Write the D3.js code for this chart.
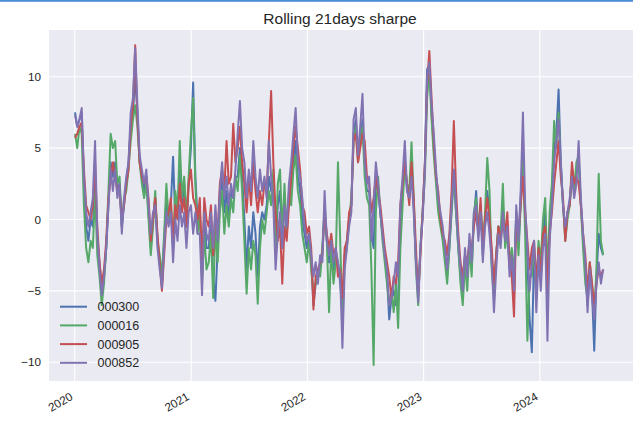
<!DOCTYPE html>
<html>
<head>
<meta charset="utf-8">
<script src="https://cdn.jsdelivr.net/npm/d3@7"></script>
<style>
  body { margin: 0; background: #fff; }
  text { font-family: "Liberation Sans", Arial, sans-serif; fill: #262626; }
</style>
</head>
<body>
<script>

// weekly samples, first one 2020-01-02
var dates = d3.timeThursday.range(new Date(2020, 0, 2), new Date(2024, 6, 19));

var names = ["000300", "000016", "000905", "000852"];

var s000300 = [
  7.5, 6.5, 7.0, 7.5, 2.5, -0.5, -1.5, 0.0, -0.5, 3.0,
  -1.5, -3.0, -5.0, -4.0, -2.0, 1.0, 4.0, 3.0, 4.0, 2.0,
  2.5, -0.5, 1.0, 2.5, 4.0, 6.5, 7.5, 10.0, 7.5, 4.0,
  3.0, 2.0, 3.0, 0.5, -2.0, 0.0, 1.5, -1.5, -3.0, -4.5,
  -1.5, 1.5, 0.0, 1.0, 4.4, 0.0, 0.5, 3.5, 1.0, 2.5,
  -0.5, 2.5, 5.0, 9.6, 3.0, 0.0, 1.0, -4.0, 0.5, -2.0,
  -2.0, 0.0, -4.0, -5.7, -2.0, 1.5, 3.0, 0.5, 2.0, 0.0,
  2.0, 1.5, 3.0, 3.0, 5.0, 3.0, 0.0, -3.5, -0.5, -2.0,
  0.5, -1.0, -4.0, -0.5, 0.5, 0.0, 1.0, 3.0, 2.0, 3.0,
  -2.0, 1.0, 2.0, -2.0, 1.5, -1.0, 1.5, 2.5, 4.0, 5.5,
  3.0, 2.0, 0.0, -1.0, -2.0, -1.0, -3.0, -6.0, -4.5, -4.0,
  -3.5, -2.0, 0.5, -1.5, -3.0, -1.5, -3.5, -2.5, -3.0, -4.5,
  -6.5, -2.5, -1.5, 0.0, 1.0, 6.0, 7.0, 4.5, 5.5, 7.0,
  4.0, 2.0, 2.0, -1.0, -2.0, 3.0, 2.0, 0.5, -1.0, -2.5,
  -4.0, -7.0, -5.5, -5.0, -6.0, -5.5, -1.0, 2.0, 4.0, 2.0,
  1.5, 3.5, 1.0, -3.0, -5.0, -2.0, 0.5, 4.0, 10.5, 10.8,
  7.5, 5.0, 3.0, 1.0, 0.0, -1.0, -2.5, -4.0, -2.0, 1.0,
  3.0, 0.5, -2.0, -4.0, -5.5, -2.5, -4.0, -1.5, -3.5, 0.0,
  2.0, -1.0, 1.0, -2.5, 0.0, 2.0, 0.5, -3.0, -5.0, -2.5,
  -0.5, -1.5, 1.0, -1.5, -0.5, -3.5, -3.0, -5.5, 0.5, -2.0,
  1.5, 5.0, 0.0, -3.0, -7.0, -9.3, -2.5, -5.0, -2.0, -4.0,
  -1.0, 0.5, -5.5, -0.5, 2.0, 5.0, 6.0, 9.1, 4.0, 1.0,
  -1.0, 0.5, 1.0, 3.0, 2.0, 3.5, 4.0, 1.0, -1.5, -3.5,
  -6.0, -3.5, -5.0, -9.2, -4.0, -1.0, -2.0, -2.5
];

var s000016 = [
  6.0, 5.0, 6.5, 6.0, 1.0, -2.0, -3.0, -1.5, -2.0, 2.0,
  -2.5, -4.0, -6.0, -4.5, -2.0, 2.0, 6.0, 5.0, 5.5, 2.5,
  3.0, -0.5, 1.5, 2.0, 3.5, 5.5, 7.0, 8.0, 6.5, 4.0,
  2.5, 1.5, 2.5, 0.0, -2.5, -0.5, 2.0, -1.5, -2.5, -4.0,
  -1.0, 2.5, 0.0, 1.0, -2.0, 2.0, 0.5, 5.5, 1.5, 3.0,
  0.0, 3.0, 6.0, 8.5, 2.5, -1.0, 0.5, -4.5, -1.0, -3.5,
  -3.0, -1.0, -5.5, -0.5, -3.0, 0.5, 2.0, -1.0, 1.0, -0.5,
  1.5, 0.5, 3.0, 2.0, 4.5, 2.0, -1.5, -5.2, -2.0, -3.5,
  -1.5, -2.5, -5.9, -2.0, 0.0, -1.0, 0.5, 2.0, 1.0, 3.5,
  -2.5, 2.5, 3.5, -1.0, 2.5, -1.0, 2.0, 1.0, 3.5, 4.5,
  2.0, 1.0, -1.0, -2.0, -3.0, -1.5, -3.5, -5.0, -4.5, -3.5,
  -4.0, -2.0, 1.0, -1.5, -6.5, -2.0, -4.5, -3.0, 4.0, -1.5,
  -7.0, -3.0, -2.0, 0.0, 1.5, 5.5, 6.5, 4.0, 5.5, 6.5,
  3.0, 1.5, 1.0, -3.5, -10.2, 0.5, 3.0, 0.5, -1.5, -3.0,
  -4.5, -6.0, -5.0, -6.5, -4.5, -7.6, -2.0, 1.0, 4.0, 2.5,
  2.0, 5.4, 1.5, -3.5, -6.0, -2.0, 0.5, 3.0, 8.5, 10.5,
  7.0, 4.5, 2.5, 0.5, -0.5, -1.5, -3.0, -4.5, -2.0, 0.5,
  3.0, 0.5, -2.0, -4.5, -6.0, -3.0, -5.0, -2.0, -4.0, 0.5,
  1.5, -1.0, 1.0, -2.0, 0.5, 4.3, 2.0, -3.5, -5.5, -2.5,
  -0.5, -1.0, 2.5, -2.0, -1.0, -3.0, -2.0, -4.0, 0.5, -2.5,
  1.0, 4.0, -1.0, -8.5, -4.0, -4.0, -2.0, -5.5, -1.5, -3.0,
  0.0, 1.5, -4.0, 0.5, 2.5, 6.9, 5.0, 7.5, 3.5, 1.0,
  -1.5, 0.0, 1.0, 3.5, 2.0, 4.0, 4.5, 1.0, -2.0, -4.5,
  -5.5, -3.0, -4.5, -6.5, -3.5, 3.2, -1.5, -2.5
];

var s000905 = [
  5.7, 6.0, 6.5, 6.8, 3.5, 1.0, 0.5, 0.0, 1.0, 4.0,
  -0.5, -3.0, -4.5, -3.5, -1.5, 1.5, 3.0, 4.0, 3.0, 2.0,
  2.0, 0.0, 1.0, 2.5, 3.5, 6.5, 8.0, 12.2, 7.0, 4.0,
  3.0, 2.5, 3.0, 1.5, -1.5, 0.0, 1.5, -1.0, -3.0, -5.0,
  -2.5, 0.0, 0.5, 1.5, -1.5, 1.0, 0.0, 2.5, 0.5, 1.5,
  -0.5, 2.5, 3.5, 1.5, 1.0, 0.0, 1.5, -3.5, 1.5, 0.0,
  -0.5, 1.0, -2.5, 0.5, -1.0, 2.5, 3.5, 2.0, 5.5, 2.5,
  3.0, 6.7, 4.0, 5.0, 6.5, 4.0, 2.5, 0.5, 3.0, 1.0,
  4.0, 2.0, 0.5, 2.0, 1.0, 2.5, 2.0, 5.5, 9.0, 4.0,
  0.5, -1.5, -0.5, -4.5, -0.5, -1.5, 1.0, 3.0, 5.0, 6.5,
  5.0, 3.5, 1.0, 0.5, -1.0, -0.5, -2.0, -6.3, -4.0, -3.5,
  -3.0, -2.5, 0.5, -1.0, -2.0, -1.0, -2.5, -2.0, -4.0, -3.5,
  -5.5, -2.0, -1.5, 0.5, 1.0, 5.5, 6.0, 4.0, 5.0, 6.0,
  5.5, 3.0, 2.5, 0.5, 1.5, 3.0, 2.0, 1.0, -0.5, -2.0,
  -3.0, -4.0, -5.5, -4.0, -4.5, -3.0, 1.0, 2.5, 4.0, 2.5,
  1.0, 4.0, 1.5, -2.0, -5.4, -2.5, 0.5, 4.0, 9.5, 11.8,
  8.5, 5.5, 3.0, 2.0, 0.0, -1.0, -1.5, -2.5, -1.0, 2.0,
  6.9, 2.0, -1.0, -3.0, -4.0, -2.5, -3.0, -1.5, -2.0, -0.5,
  0.5, -1.0, 1.5, -2.0, 0.0, 1.5, 0.0, -2.0, -4.5, -2.5,
  -0.5, -1.5, 0.0, -1.0, 0.5, -3.0, -4.0, -6.8, 0.0, -1.0,
  1.0, 3.0, 0.5, -1.5, -3.5, -2.0, -1.5, -4.5, -2.0, -4.0,
  -1.0, -0.5, -5.0, -1.0, 0.5, 2.5, 4.0, 5.5, 3.0, 1.5,
  -1.5, 0.5, 1.0, 4.0, 2.5, 3.0, 2.5, 1.0, -1.0, -2.5,
  -5.0, -3.0, -4.5, -6.0, -4.5, -3.5, -4.0, -3.5
];

var s000852 = [
  7.3, 6.5, 7.0, 7.8, 3.0, 0.5, -0.5, 0.5, 1.5, 5.5,
  -1.0, -3.5, -5.3, -4.0, -2.0, 1.0, 3.5, 2.0, 3.5, 1.5,
  2.5, -1.0, 1.5, 3.0, 4.0, 7.5, 8.5, 12.0, 8.0, 4.5,
  3.5, 2.5, 3.5, 1.0, -1.0, 0.5, 1.0, -2.0, -3.5, -4.8,
  -2.0, 0.5, -0.5, 0.5, -3.0, 0.0, -1.5, 1.0, -0.5, 0.5,
  -2.0, 0.5, 1.0, -1.0, 0.5, -1.0, -1.0, -5.3, 0.5, -1.0,
  -1.5, 0.5, -2.0, 1.0, -1.5, 2.0, 4.0, 1.5, 3.0, 1.0,
  2.5, 1.5, 3.5, 6.0, 8.3, 5.0, 4.0, 1.5, 3.5, 2.0,
  5.5, 3.0, 1.5, 3.5, 2.0, 3.0, 1.5, 5.5, 3.0, 1.0,
  -3.5, -1.0, 0.5, -2.0, 1.0, -0.5, 2.5, 4.0, 6.0, 7.8,
  4.0, 3.0, 1.5, -0.5, -1.5, -1.0, -2.5, -4.0, -3.0, -4.5,
  -2.5, -3.0, 2.0, -1.5, -2.5, -1.5, -3.0, -2.0, -3.0, -4.0,
  -9.0, -3.5, -2.0, -0.5, 0.5, 7.0, 7.8, 4.5, 6.5, 8.8,
  4.0, 2.5, 3.0, -1.5, 1.0, 4.0, 2.5, 0.5, -1.0, -2.5,
  -3.5, -6.0, -5.5, -4.5, -3.0, -4.0, 1.0, 3.0, 5.5, 2.0,
  1.5, 3.0, 0.5, -3.0, -5.8, -2.0, 0.0, 3.5, 10.0, 11.0,
  8.0, 6.0, 3.5, 1.5, 0.5, -0.5, -2.0, -3.5, -1.5, 1.0,
  3.5, 1.0, -1.5, -3.5, -5.0, -2.0, -4.0, -1.0, -3.0, 0.5,
  1.0, -1.5, 0.5, -3.0, -0.5, 0.5, -1.0, -3.0, -6.5, -3.5,
  -1.0, -2.0, 0.5, -1.5, -0.5, -4.0, -2.5, -5.0, 1.0, -1.5,
  2.0, 7.5, 1.0, -2.0, -5.0, -3.0, -1.5, -6.5, -2.5, -5.0,
  -2.0, -1.0, -8.5, -1.5, 1.0, 4.0, 5.5, 7.0, 4.0, 1.0,
  -0.5, 0.5, 1.5, 3.0, 1.5, 2.5, 5.5, 1.5, -1.0, -3.0,
  -6.5, -3.5, -5.5, -7.0, -4.5, -3.0, -4.5, -3.5
];

var seriesValues = [s000300, s000016, s000905, s000852];
var colors = ["#4C72B0", "#55A868", "#C44E52", "#8172B2"];

var yTicks = [-10, -5, 0, 5, 10];
var yearTicks = [2020, 2021, 2022, 2023, 2024];

var width = 633, height = 421;
var plotLeft = 49, plotTop = 30, plotBottom = 381;

var svg = d3.select("body").append("svg")
            .attr("width", width)
            .attr("height", height);

// thin blue strip along the top edge of the screenshot
svg.append("rect")
   .attr("x", 0).attr("y", 0)
   .attr("width", width).attr("height", 1.8)
   .style("fill", "#4a8fd6");

var x = d3.scaleTime()
          .domain([new Date(2020, 0, 1), new Date(2024, 0, 1)])
          .range([74.7, 539.8]);

var y = d3.scaleLinear()
          .domain([-10, 10])
          .range([362.2, 76.7]);

// axes background
svg.append("rect")
   .attr("x", plotLeft).attr("y", plotTop)
   .attr("width", width - plotLeft).attr("height", plotBottom - plotTop)
   .style("fill", "#EAEAF2");

// grid
svg.selectAll(".ygrid")
   .data(yTicks)
   .enter()
   .append("line")
   .attr("x1", plotLeft).attr("x2", width)
   .attr("y1", d => y(d)).attr("y2", d => y(d))
   .style("stroke", "#fff")
   .style("stroke-width", 1.1);

svg.selectAll(".xgrid")
   .data(yearTicks)
   .enter()
   .append("line")
   .attr("x1", d => x(new Date(d, 0, 1))).attr("x2", d => x(new Date(d, 0, 1)))
   .attr("y1", plotTop).attr("y2", plotBottom)
   .style("stroke", "#fff")
   .style("stroke-width", 1.1);

// tick labels
svg.selectAll(".ylab")
   .data(yTicks)
   .enter()
   .append("text")
   .attr("x", 41)
   .attr("y", d => y(d))
   .attr("dy", "0.36em")
   .attr("text-anchor", "end")
   .style("font-size", "11.7px")
   .text(d => d < 0 ? "\u2212" + Math.abs(d) : d);

svg.selectAll(".xlab")
   .data(yearTicks)
   .enter()
   .append("text")
   .attr("text-anchor", "end")
   .attr("transform", d => "translate(" + (x(new Date(d, 0, 1)) - 1) + ",399) rotate(-30)")
   .style("font-size", "11.7px")
   .text(d => d);

// the four rolling sharpe lines
var line = d3.line()
             .x((d, i) => x(dates[i]))
             .y(d => y(d));

svg.selectAll(".series")
   .data(seriesValues)
   .enter()
   .append("path")
   .attr("d", d => line(d.slice(0, dates.length)))
   .style("fill", "none")
   .style("stroke", (d, i) => colors[i])
   .style("stroke-width", 2)
   .style("stroke-linejoin", "round");

// legend, no frame
var legend = svg.selectAll(".legend")
                .data(names)
                .enter()
                .append("g")
                .attr("transform", (d, i) => "translate(0," + (306.7 + i * 18.7) + ")");

legend.append("line")
      .attr("x1", 60).attr("x2", 87)
      .attr("y1", 0).attr("y2", 0)
      .style("stroke", (d, i) => colors[i])
      .style("stroke-width", 2);

legend.append("text")
      .attr("x", 97.5)
      .attr("dy", "0.36em")
      .style("font-size", "12.5px")
      .text(d => d);

svg.append("text")
   .attr("x", 340)
   .attr("y", 24)
   .attr("text-anchor", "middle")
   .style("font-size", "15.5px")
   .text("Rolling 21days sharpe");

</script>
</body>
</html>
